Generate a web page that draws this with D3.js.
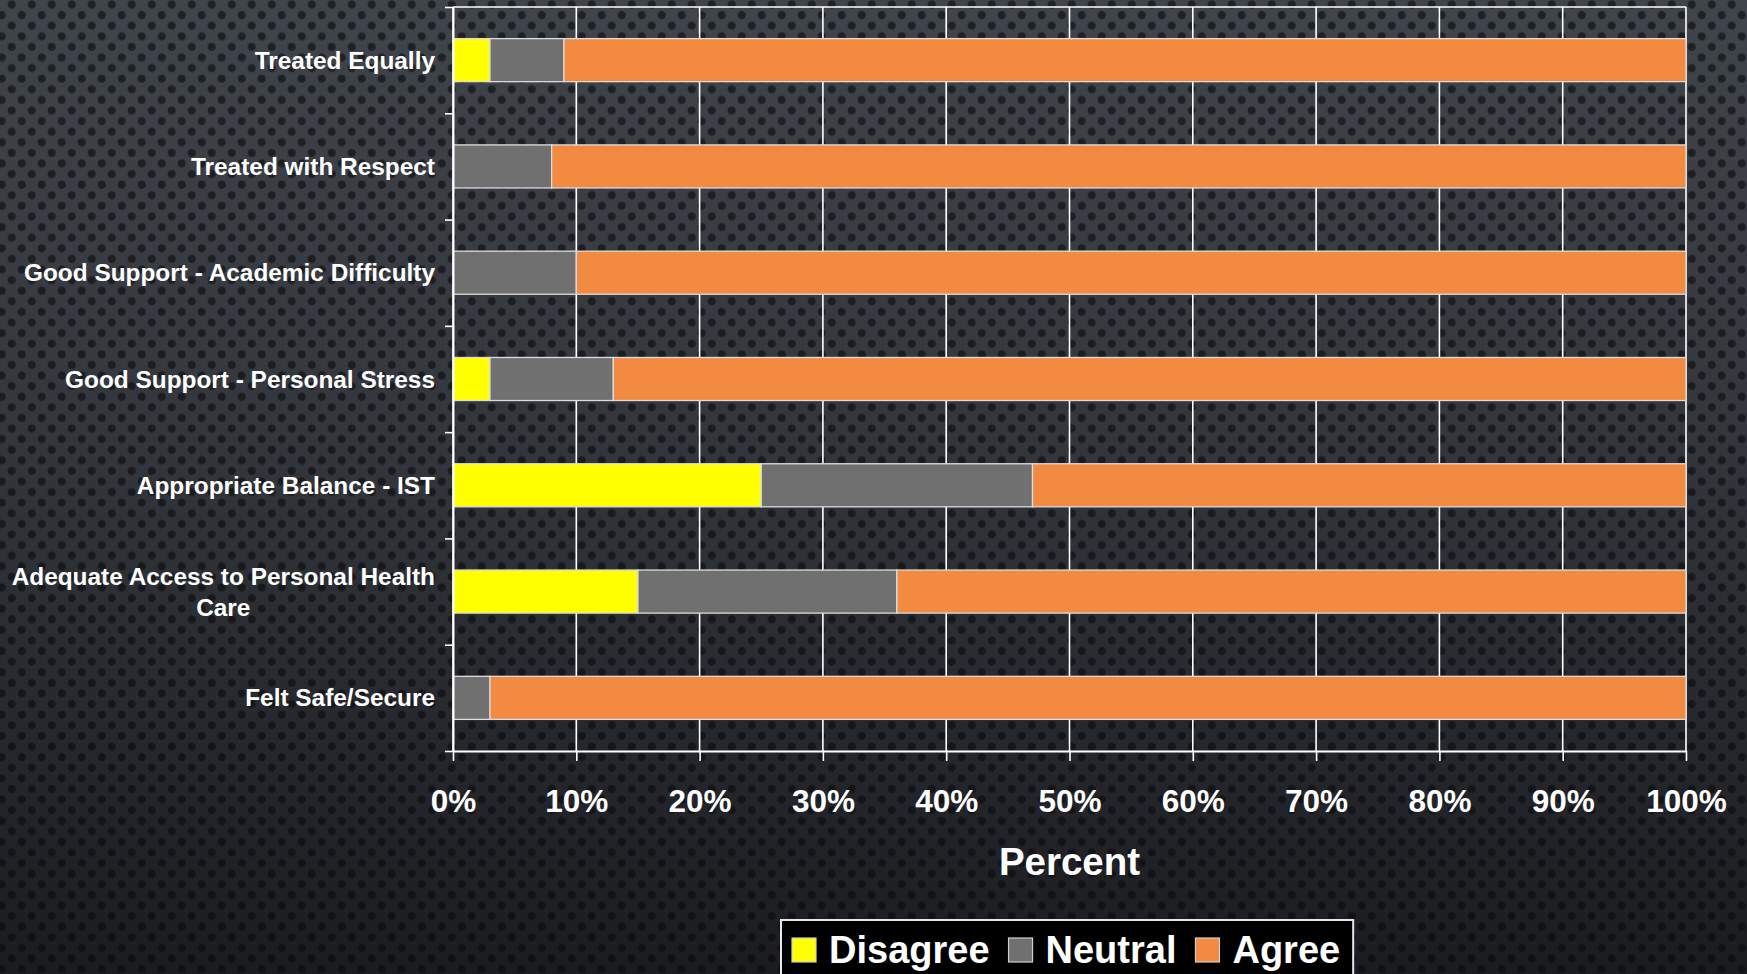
<!DOCTYPE html>
<html>
<head>
<meta charset="utf-8">
<script src="https://cdn.jsdelivr.net/npm/d3@7"></script>
<style>
  html, body { margin: 0; padding: 0; background: #2a2c31; }
  svg { display: block; }
  text { font-family: "Liberation Sans", Arial, sans-serif; font-weight: bold; fill: #ffffff; }
</style>
</head>
<body>
<svg id="chart" width="1747" height="974"></svg>
<script>
// Survey items (top to bottom) and response shares in percent
const categories = [
  "Treated Equally",
  "Treated with Respect",
  "Good Support - Academic Difficulty",
  "Good Support - Personal Stress",
  "Appropriate Balance - IST",
  "Adequate Access to Personal Health Care",
  "Felt Safe/Secure"
];
const disagree = [3, 0, 0, 3, 25, 15, 0];
const neutral  = [6, 8, 10, 10, 22, 21, 3];
const agree    = [91, 92, 90, 87, 53, 64, 97];

const seriesNames  = ["Disagree", "Neutral", "Agree"];
const seriesColors = ["#ffff00", "#707070", "#f28a42"];
const xTicks = [0, 10, 20, 30, 40, 50, 60, 70, 80, 90, 100];
const xTitle = "Percent";

const W = 1747, H = 974;
const plot = { left: 453, right: 1686, top: 7, bottom: 751 };

const svg = d3.select("#chart");
const defs = svg.append("defs");

// Perforated-metal backdrop: vertical shading plus a staggered dot grid
const bg = defs.append("linearGradient").attr("id", "bgShade")
  .attr("x1", 0).attr("y1", 0).attr("x2", 0).attr("y2", 1);
bg.append("stop").attr("offset", 0).attr("stop-color", "#40444b");
bg.append("stop").attr("offset", 0.45).attr("stop-color", "#33363c");
bg.append("stop").attr("offset", 1).attr("stop-color", "#1b1c20");

const dot = defs.append("radialGradient").attr("id", "dotShade");
dot.append("stop").attr("offset", 0).attr("stop-color", "#08090b").attr("stop-opacity", 0.62);
dot.append("stop").attr("offset", 0.75).attr("stop-color", "#08090b").attr("stop-opacity", 0.57);
dot.append("stop").attr("offset", 1).attr("stop-color", "#08090b").attr("stop-opacity", 0.15);

const pat = defs.append("pattern").attr("id", "holes")
  .attr("patternUnits", "userSpaceOnUse")
  .attr("x", 0).attr("y", 0)
  .attr("width", 20).attr("height", 21.2);
[[11.7, 4.5], [1.7, 15.1], [21.7, 15.1], [11.7, 25.7], [-8.3, 15.1]].forEach(([cx, cy]) => {
  pat.append("circle").attr("cx", cx).attr("cy", cy).attr("r", 4.5).attr("fill", "url(#dotShade)");
});

svg.append("rect").attr("width", W).attr("height", H).attr("fill", "url(#bgShade)");
svg.append("rect").attr("width", W).attr("height", H).attr("fill", "url(#holes)");

// Scales
const x = d3.scaleLinear().domain([0, 100]).range([plot.left, plot.right]);
const y = d3.scaleBand().domain(categories)
  .range([plot.top, plot.bottom])
  .paddingInner(0.595).paddingOuter(0.2975);
const yEdge = d3.scaleLinear().domain([0, categories.length]).range([plot.top, plot.bottom]);

// Vertical gridlines and top border
const grid = svg.append("g");
grid.selectAll("line.v").data(xTicks).join("line")
  .attr("x1", d => x(d)).attr("x2", d => x(d))
  .attr("y1", plot.top).attr("y2", plot.bottom)
  .attr("stroke", "#ffffff").attr("stroke-width", 1.6);
grid.append("line")
  .attr("x1", plot.left).attr("x2", plot.right)
  .attr("y1", plot.top).attr("y2", plot.top)
  .attr("stroke", "#ffffff").attr("stroke-width", 1.6);

// Stacked bars
const rows = categories.map((c, i) => ({
  cat: c, Disagree: disagree[i], Neutral: neutral[i], Agree: agree[i]
}));
const stacked = d3.stack().keys(seriesNames)(rows);

svg.append("g").selectAll("g").data(stacked).join("g")
  .attr("fill", (d, i) => seriesColors[i])
  .selectAll("rect")
  .data(d => d.filter(s => s[1] - s[0] > 0))
  .join("rect")
  .attr("x", d => x(d[0]))
  .attr("y", d => y(d.data.cat))
  .attr("width", d => x(d[1]) - x(d[0]))
  .attr("height", y.bandwidth())
  .attr("stroke", "#dcdcdc")
  .attr("stroke-width", 1.3);

// Axes
const xAxis = svg.append("g")
  .attr("transform", `translate(0,${plot.bottom})`)
  .call(d3.axisBottom(x).tickValues(xTicks).tickSize(10).tickSizeOuter(0)
    .tickPadding(29).tickFormat(d => d + "%"));
xAxis.select(".domain").attr("stroke", "#ffffff").attr("stroke-width", 2);
xAxis.selectAll(".tick line").attr("stroke", "#ffffff").attr("stroke-width", 1.6);
xAxis.selectAll(".tick text")
  .attr("fill", "#ffffff")
  .style("font-family", '"Liberation Sans", Arial, sans-serif')
  .style("font-weight", "bold")
  .style("font-size", "31.5px");

const yAxis = svg.append("g")
  .attr("transform", `translate(${plot.left},0)`)
  .call(d3.axisLeft(yEdge).tickValues(d3.range(0, categories.length + 1))
    .tickSize(8).tickSizeOuter(0).tickFormat(""));
yAxis.select(".domain").attr("stroke", "#ffffff").attr("stroke-width", 2);
yAxis.selectAll(".tick line").attr("stroke", "#ffffff").attr("stroke-width", 1.6);

// Category labels, wrapped when too long and centred as a block
const labelRight = 435, labelMax = 445, lineH = 31, labelSize = 24.4;
const labels = svg.append("g").style("font-size", labelSize + "px");
const measure = s => {
  const p = labels.append("text").text(s);
  const w = p.node().getComputedTextLength();
  p.remove();
  return w;
};
categories.forEach(cat => {
  const cy = y(cat) + y.bandwidth() / 2;
  let lines = [cat];
  if (measure(cat) > labelMax) {
    lines = [];
    let cur = "";
    cat.split(" ").forEach(w => {
      const t = cur ? cur + " " + w : w;
      if (measure(t) > labelMax && cur) { lines.push(cur); cur = w; } else { cur = t; }
    });
    lines.push(cur);
  }
  if (lines.length === 1) {
    labels.append("text").attr("x", labelRight).attr("y", cy)
      .attr("dy", "0.35em").attr("text-anchor", "end").text(cat);
  } else {
    const cx = labelRight - d3.max(lines, measure) / 2;
    const y0 = cy - (lines.length - 1) * lineH / 2;
    lines.forEach((l, i) => {
      labels.append("text").attr("x", cx).attr("y", y0 + i * lineH)
        .attr("dy", "0.35em").attr("text-anchor", "middle").text(l);
    });
  }
});

// Axis title
svg.append("text")
  .attr("x", (plot.left + plot.right) / 2)
  .attr("y", 875)
  .attr("text-anchor", "middle")
  .style("font-size", "38.5px")
  .text(xTitle);

// Legend
const legend = svg.append("g");
const box = legend.append("rect")
  .attr("x", 781).attr("y", 920).attr("height", 80)
  .attr("fill", "#000000").attr("stroke", "#e8e8e8").attr("stroke-width", 2);
let lx = 792;
seriesNames.forEach((name, i) => {
  legend.append("rect")
    .attr("x", lx).attr("y", 938).attr("width", 24).attr("height", 24)
    .attr("fill", seriesColors[i]).attr("stroke", "#cfcfcf").attr("stroke-width", 1.2);
  const t = legend.append("text")
    .attr("x", lx + 37).attr("y", 963)
    .style("font-size", "38px")
    .text(name);
  lx = lx + 37 + t.node().getComputedTextLength() + 19;
});
box.attr("width", lx - 19 + 13 - 781);
</script>
</body>
</html>
